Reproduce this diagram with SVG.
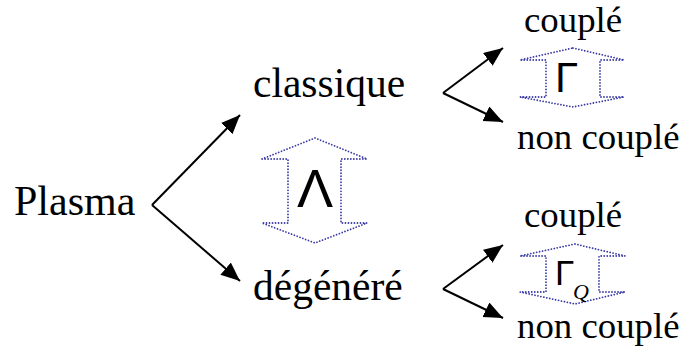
<svg xmlns="http://www.w3.org/2000/svg" width="685" height="356" viewBox="0 0 685 356">
<style>
.t{font-family:"Liberation Serif","Times New Roman",serif;fill:#000}
.g{font-family:"Liberation Sans",Arial,sans-serif;fill:#000}
.c{stroke:#000;stroke-width:2;fill:none}
.d{stroke:#3a3aa6;stroke-width:1.8;fill:none;stroke-dasharray:0.01 3;stroke-linecap:round}
</style>
<defs>
<marker id="ah" markerUnits="userSpaceOnUse" markerWidth="22" markerHeight="18" refX="19" refY="8" orient="auto">
<path d="M0,0 L19,8 L0,16 z" fill="#000"/>
</marker>
</defs>
<rect width="685" height="356" fill="#fff"/>
<g id="connectors">
<line class="c" x1="152" y1="205" x2="240" y2="115" marker-end="url(#ah)"/>
<line class="c" x1="152" y1="205" x2="240" y2="281" marker-end="url(#ah)"/>
<line class="c" x1="443" y1="93" x2="503" y2="48" marker-end="url(#ah)"/>
<line class="c" x1="443" y1="93" x2="503" y2="122" marker-end="url(#ah)"/>
<line class="c" x1="443" y1="289" x2="503" y2="245" marker-end="url(#ah)"/>
<line class="c" x1="443" y1="289" x2="503" y2="318" marker-end="url(#ah)"/>
</g>
<g id="plasma"><text class="t" x="14" y="215" font-size="42">Plasma</text></g>
<g id="classique"><text class="t" x="253" y="97" font-size="41.5">classique</text></g>
<g id="degenere"><text class="t" x="253" y="300" font-size="41.5">dégénéré</text></g>
<g id="couple1"><text class="t" x="524" y="32" font-size="36.8">couplé</text></g>
<g id="noncouple1"><text class="t" x="517" y="149" font-size="36.8">non couplé</text></g>
<g id="couple2"><text class="t" x="524" y="227" font-size="36.8">couplé</text></g>
<g id="noncouple2"><text class="t" x="517" y="338" font-size="36.8">non couplé</text></g>
<g id="lambda">
<polygon class="d" points="315,138 367,159 341,159 341,223 367,223 315,243 262,223 288,223 288,159 262,159"/>
<text class="g" x="297" y="207" font-size="54">Λ</text>
</g>
<g id="gamma">
<polygon class="d" points="573,48 624,60 600,60 600,97 624,97 573,107 520,97 546,97 546,60 520,60"/>
<text class="g" x="555" y="92" font-size="42">Γ</text>
</g>
<g id="gammaQ">
<polygon class="d" points="575,244 625,256 599,256 599,292 625,292 575,304 520,292 546,292 546,256 520,256"/>
<text class="g" x="555" y="285" font-size="35">Γ</text>
<text class="t" x="573" y="299" font-size="22" font-style="italic">Q</text>
</g>
</svg>
